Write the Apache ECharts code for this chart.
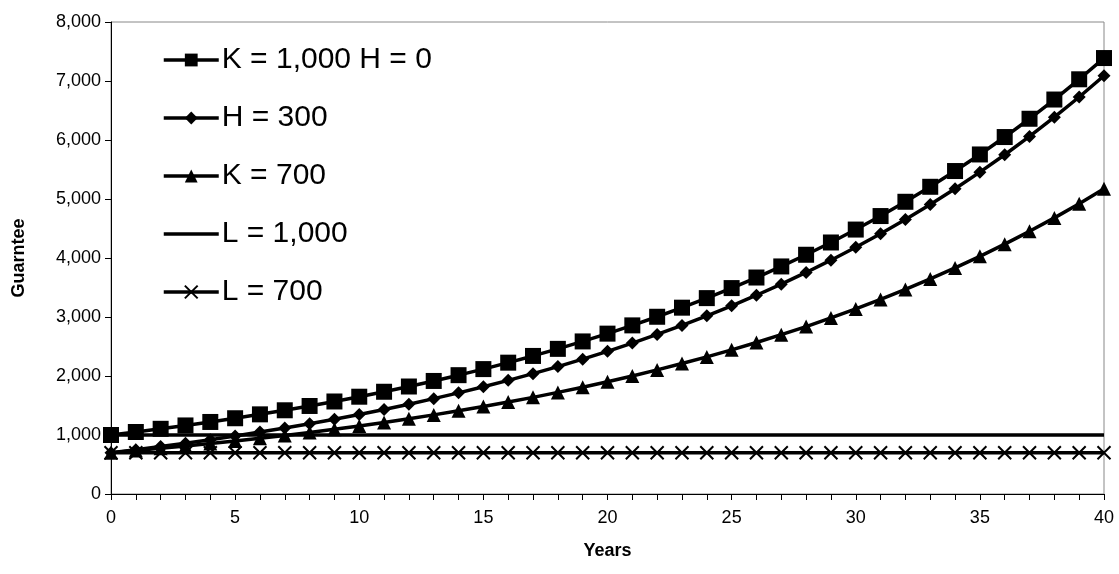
<!DOCTYPE html>
<html>
<head>
<meta charset="utf-8">
<script src="https://cdn.jsdelivr.net/npm/echarts@6/dist/echarts.min.js"></script>
<style>
  html, body { margin: 0; padding: 0; background: #fff; }
  #chart { width: 1119px; height: 574px; }
</style>
</head>
<body>
<div id="chart"></div>
<script>
const years = [];
for (let i = 0; i <= 40; i++) years.push(i);

const k1000 = [1000, 1051, 1105, 1162, 1221, 1284, 1350, 1419, 1492, 1568, 1649, 1733, 1822, 1916, 2014, 2117, 2226, 2340, 2460, 2586, 2718,
  2858, 3004, 3158, 3320, 3490, 3669, 3857, 4055, 4263, 4482, 4711, 4953, 5207, 5474, 5755, 6050, 6360, 6686, 7029, 7389];
const h300 = [700, 751, 805, 862, 921, 984, 1050, 1119, 1192, 1268, 1349, 1433, 1522, 1616, 1714, 1817, 1926, 2040, 2160, 2286, 2418,
  2558, 2704, 2858, 3020, 3190, 3369, 3557, 3755, 3963, 4182, 4411, 4653, 4907, 5174, 5455, 5750, 6060, 6386, 6729, 7089];
const k700 = [700, 736, 774, 813, 855, 899, 945, 993, 1044, 1098, 1154, 1213, 1275, 1341, 1410, 1482, 1558, 1638, 1722, 1810, 1903,
  2000, 2103, 2211, 2324, 2443, 2568, 2700, 2838, 2984, 3137, 3298, 3467, 3645, 3832, 4028, 4235, 4452, 4680, 4920, 5172];
const l1000 = years.map(() => 1000);
const l700 = years.map(() => 700);

const names = ['K = 1,000 H = 0', 'H = 300', 'K = 700', 'L = 1,000', 'L = 700'];
const crossPath = 'path://M0,0L10,10M10,0L0,10';
// plain bar for the legend of the marker-less series (corners keep the box 55x16)
const plainLineIcon = 'path://M0,0M55,16M0,6.25H55V9.75H0Z';

const chart = echarts.init(document.getElementById('chart'));

function pairs(arr) {
  return years.map((y, i) => [y, arr[i]]);
}

function lineSeries(name, data, symbol, size, extra) {
  return Object.assign({
    name: name,
    type: 'line',
    data: pairs(data),
    symbol: symbol,
    symbolSize: size,
    showSymbol: symbol !== 'none',
    lineStyle: { color: '#000', width: 3.5 },
    itemStyle: { color: '#000' },
    animation: false
  }, extra || {});
}

chart.setOption({
  textStyle: { fontFamily: 'Liberation Sans, Arial, sans-serif' },
  grid: { left: 111, right: 15, top: 22, bottom: 80, show: true, borderColor: '#888', borderWidth: 1 },
  legend: {
    orient: 'vertical',
    left: 157,
    top: 40,
    itemGap: 28,
    itemWidth: 55,
    itemHeight: 16,
    lineStyle: { width: 3.5 },
    textStyle: { fontSize: 30, color: '#000', padding: [0, 0, 0, -2] },
    data: [
      { name: names[0] },
      { name: names[1] },
      { name: names[2] },
      { name: names[3], icon: plainLineIcon, itemStyle: { color: '#000' } },
      { name: names[4] }
    ]
  },
  xAxis: {
    type: 'value',
    min: 0,
    max: 40,
    interval: 1,
    name: 'Years',
    nameLocation: 'middle',
    nameGap: 48,
    nameTextStyle: { fontSize: 18, fontWeight: 'bold', color: '#000' },
    axisLine: { lineStyle: { color: '#000', width: 1 } },
    axisTick: { length: 6, lineStyle: { color: '#000' } },
    axisLabel: {
      fontSize: 18, color: '#000', margin: 15,
      formatter: v => (v % 5 === 0 ? String(v) : '')
    },
    splitLine: { show: false }
  },
  yAxis: {
    type: 'value',
    min: 0,
    max: 8000,
    interval: 1000,
    name: 'Guarntee',
    nameLocation: 'middle',
    nameGap: 83,
    nameTextStyle: { fontSize: 18, fontWeight: 'bold', color: '#000' },
    axisLine: { show: true, lineStyle: { color: '#000', width: 1 } },
    axisTick: { show: true, length: 6, lineStyle: { color: '#000' } },
    axisLabel: { fontSize: 18, color: '#000', margin: 10, formatter: v => v.toLocaleString('en-US') },
    splitLine: { show: false }
  },
  series: [
    lineSeries(names[0], k1000, 'rect', 16),
    lineSeries(names[1], h300, 'diamond', 13),
    lineSeries(names[2], k700, 'triangle', 14),
    lineSeries(names[3], l1000, 'none', 0),
    lineSeries(names[4], l700, crossPath, 13, {
      itemStyle: { color: '#000', borderColor: '#000', borderWidth: 2 }
    })
  ]
});
</script>
</body>
</html>
